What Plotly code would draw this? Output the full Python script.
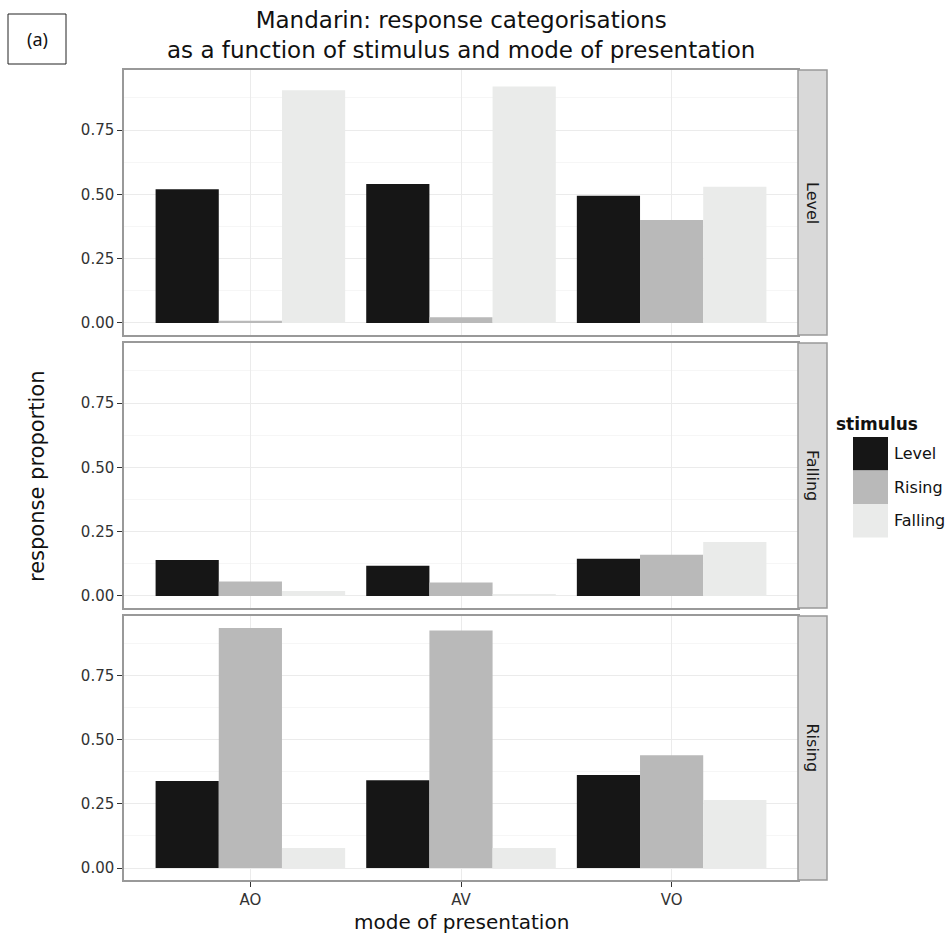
import plotly.graph_objects as go

W, H = 947, 936

modes = ["AO", "AV", "VO"]
stimuli = ["Level", "Rising", "Falling"]
responses = ["Level", "Falling", "Rising"]  # facet order, top to bottom

# response proportion[response][stimulus] -> values over modes
level_resp = {
    "Level": [0.52, 0.54, 0.495],
    "Rising": [0.009, 0.022, 0.40],
    "Falling": [0.905, 0.92, 0.53],
}
falling_resp = {
    "Level": [0.14, 0.117, 0.145],
    "Rising": [0.056, 0.052, 0.16],
    "Falling": [0.019, 0.006, 0.21],
}
rising_resp = {
    "Level": [0.34, 0.343, 0.363],
    "Rising": [0.937, 0.927, 0.44],
    "Falling": [0.078, 0.078, 0.265],
}
data = {"Level": level_resp, "Falling": falling_resp, "Rising": rising_resp}

colors = {"Level": "#161616", "Rising": "#b9b9b9", "Falling": "#eaebea"}
ytick_vals = [0, 0.25, 0.5, 0.75]
ytick_text = ["0.00", "0.25", "0.50", "0.75"]

FONT = "DejaVu Sans"

# layout geometry (pixels)
px_l, px_r = 124, 798
strip_r = 827
panels = [(70, 335), (343, 608), (616, 880)]

def fx(p):
    return p / W

def fy(p):
    return 1 - p / H

fig = go.Figure()
layout = dict(
    width=W, height=H,
    margin=dict(l=0, r=0, t=0, b=0),
    paper_bgcolor="white", plot_bgcolor="white",
    barmode="group", bargap=0.1, bargroupgap=0,
    showlegend=False,
    font=dict(family=FONT, color="#222"),
)

shapes = []
annotations = []
ymax = max(max(v) for d in data.values() for v in d.values())
yr = [-0.05 * ymax, 1.05 * ymax]

for i, resp in enumerate(responses):
    n = "" if i == 0 else str(i + 1)
    xa, ya = "x" + n, "y" + n
    for s in stimuli:
        fig.add_trace(go.Bar(
            x=modes, y=data[resp][s], name=s,
            marker=dict(color=colors[s], line=dict(width=0)),
            xaxis=xa, yaxis=ya, showlegend=False,
        ))
    top, bot = panels[i]
    layout["xaxis" + n] = dict(
        domain=[fx(px_l), fx(px_r)], anchor=ya,
        type="category", range=[-0.6, 2.6],
        categoryorder="array", categoryarray=modes,
        showgrid=True, gridcolor="#ebebeb", gridwidth=1,
        showline=True, mirror=True, linecolor="#999999", linewidth=1.5,
        ticks="outside" if i == 2 else "", ticklen=5, tickcolor="#333",
        showticklabels=(i == 2),
        tickfont=dict(size=15, color="#333", family=FONT),
        zeroline=False,
    )
    layout["yaxis" + n] = dict(
        domain=[fy(bot), fy(top)], anchor=xa,
        range=yr, tickvals=ytick_vals, ticktext=ytick_text,
        showgrid=True, gridcolor="#ebebeb", gridwidth=1,
        minor=dict(tickvals=[0.125, 0.375, 0.625, 0.875], showgrid=True,
                   gridcolor="#f6f6f6", ticks=""),
        showline=True, mirror=True, linecolor="#999999", linewidth=1.5,
        ticks="outside", ticklen=5, tickcolor="#333",
        tickfont=dict(size=15, color="#333", family=FONT),
        zeroline=False,
    )
    # strip
    shapes.append(dict(type="rect", xref="paper", yref="paper",
                       x0=fx(px_r), x1=fx(strip_r), y0=fy(bot), y1=fy(top),
                       fillcolor="#d9d9d9", line=dict(color="#999999", width=1.5),
                       layer="above"))
    annotations.append(dict(xref="paper", yref="paper",
                            x=fx((px_r + strip_r) / 2), y=fy((top + bot) / 2),
                            xanchor="center", yanchor="middle",
                            text=resp, textangle=90, showarrow=False,
                            font=dict(size=16, color="#1a1a1a", family=FONT)))

# title
annotations.append(dict(xref="paper", yref="paper", x=fx(461), y=fy(35),
                        text="Mandarin: response categorisations<br>as a function of stimulus and mode of presentation",
                        showarrow=False, font=dict(size=23, color="#111", family=FONT),
                        xanchor="center", yanchor="middle"))
# axis titles
annotations.append(dict(xref="paper", yref="paper", x=fx(461), y=fy(922),
                        xanchor="center", yanchor="middle",
                        text="mode of presentation", showarrow=False,
                        font=dict(size=20, color="#111", family=FONT)))
annotations.append(dict(xref="paper", yref="paper", x=fx(37), y=fy(477),
                        xanchor="center", yanchor="middle",
                        text="response proportion", textangle=-90, showarrow=False,
                        font=dict(size=21, color="#111", family=FONT)))
# (a) label box
shapes.append(dict(type="rect", xref="paper", yref="paper",
                   x0=fx(8), x1=fx(66), y0=fy(64), y1=fy(14),
                   line=dict(color="#222", width=1), fillcolor="white"))
annotations.append(dict(xref="paper", yref="paper", x=fx(37), y=fy(39),
                        xanchor="center", yanchor="middle",
                        text="(a)", showarrow=False,
                        font=dict(size=18, color="#111", family="Noto Sans")))

# legend (drawn)
annotations.append(dict(xref="paper", yref="paper", x=fx(834), y=fy(424),
                        yanchor="middle",
                        text="<b>stimulus</b>", showarrow=False, xanchor="left",
                        font=dict(size=17, color="#111", family=FONT)))
key_top = 437
key_h = 33.5
for k, s in enumerate(stimuli):
    y0 = key_top + k * key_h
    shapes.append(dict(type="rect", xref="paper", yref="paper",
                       x0=fx(853), x1=fx(888), y0=fy(y0 + key_h), y1=fy(y0),
                       fillcolor=colors[s], line=dict(width=0)))
    annotations.append(dict(xref="paper", yref="paper", x=fx(892), y=fy(y0 + key_h / 2),
                            text=s, showarrow=False, xanchor="left", yanchor="middle",
                            font=dict(size=16, color="#111", family=FONT)))

layout["shapes"] = shapes
layout["annotations"] = annotations
fig.update_layout(**layout)
fig.write_html("out.html",
               config={"displayModeBar": False},
               post_script="document.body.style.margin='0px';document.body.style.overflow='hidden';")
